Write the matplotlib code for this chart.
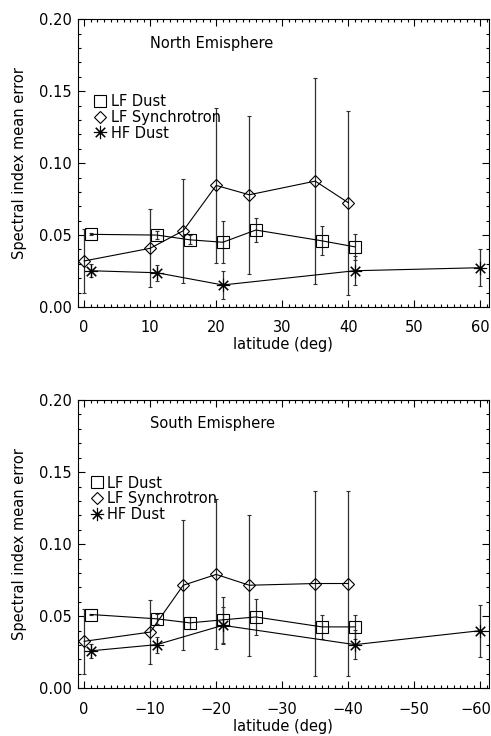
import matplotlib
matplotlib.use("Agg")
import matplotlib.pyplot as plt
from matplotlib.ticker import MultipleLocator, FormatStrFormatter
from matplotlib.lines import Line2D
from matplotlib.transforms import ScaledTranslation

# North hemisphere
n_lf_dust_lat = [1, 11, 16, 21, 26, 36, 41]
n_lf_dust_val = [0.0505, 0.050, 0.0467, 0.045, 0.0535, 0.046, 0.0418]
n_lf_dust_err = [0.0006, 0.003, 0.003, 0.0145, 0.0083, 0.010, 0.009]

n_lf_sync_lat = [0, 10, 15, 20, 25, 35, 40]
n_lf_sync_val = [0.032, 0.0408, 0.053, 0.0845, 0.078, 0.0875, 0.0725]
n_lf_sync_err = [0.0225, 0.027, 0.036, 0.054, 0.055, 0.0715, 0.064]

n_hf_dust_lat = [1, 11, 21, 41, 60]
n_hf_dust_val = [0.0252, 0.0238, 0.0153, 0.0252, 0.0273]
n_hf_dust_err = [0.0047, 0.0055, 0.0098, 0.010, 0.013]

# South hemisphere
s_lf_dust_lat = [-1, -11, -16, -21, -26, -36, -41]
s_lf_dust_val = [0.0512, 0.0482, 0.0454, 0.0475, 0.0495, 0.0426, 0.0426]
s_lf_dust_err = [0.0006, 0.0035, 0.004, 0.016, 0.0125, 0.0085, 0.0085]

s_lf_sync_lat = [0, -10, -15, -20, -25, -35, -40]
s_lf_sync_val = [0.0326, 0.039, 0.0715, 0.079, 0.0715, 0.0727, 0.0727]
s_lf_sync_err = [0.0225, 0.022, 0.045, 0.052, 0.049, 0.064, 0.064]

s_hf_dust_lat = [-1, -11, -21, -41, -60]
s_hf_dust_val = [0.026, 0.0303, 0.0437, 0.0303, 0.040]
s_hf_dust_err = [0.0048, 0.0055, 0.0128, 0.010, 0.018]

labels = ["LF Dust", "LF Synchrotron", "HF Dust"]

plt.rcParams["font.family"] = "DejaVu Sans"
plt.rcParams["font.size"] = 10.5

STAR = (8, 2, 0)
styles = [
    dict(marker="s", markersize=9.3),
    dict(marker="D", markersize=6.0),
    dict(marker=STAR, markersize=9.5),
]


def draw_panel(fig, ax, series, xlim, title, legend_xy):
    for (lat, val, err), st in zip(series, styles):
        ax.errorbar(lat, val, yerr=err, color="k", lw=0.8,
                    ecolor="#303030", elinewidth=0.9, capsize=1.6, capthick=0.9,
                    mfc="none", mec="k", mew=0.8, **st)

    ax.set_xlim(*xlim)
    ax.set_ylim(0, 0.2)
    ax.xaxis.set_major_locator(MultipleLocator(10))
    ax.xaxis.set_minor_locator(MultipleLocator(1))
    ax.yaxis.set_major_locator(MultipleLocator(0.05))
    ax.yaxis.set_minor_locator(MultipleLocator(0.01))
    ax.yaxis.set_major_formatter(FormatStrFormatter("%.2f"))
    ax.tick_params(which="both", direction="in", top=True, right=True, width=0.8)
    ax.tick_params(which="major", length=5)
    ax.tick_params(which="minor", length=2.5)
    ax.tick_params(axis="x", pad=9.5)
    ax.tick_params(axis="y", pad=4)
    for sp in ax.spines.values():
        sp.set_linewidth(0.8)

    ax.set_xlabel("latitude (deg)", labelpad=1.5)
    ax.set_ylabel("Spectral index mean error", labelpad=9)
    ax.text(0.176, 0.917, title, transform=ax.transAxes, ha="left", va="center")

    handles = [Line2D([], [], ls="none", color="k", mfc="none", mew=0.8, **st)
               for st in styles]
    ax.legend(handles, labels, loc="upper left", bbox_to_anchor=legend_xy,
              frameon=False, handlelength=0.7, handletextpad=0.35,
              labelspacing=0.05, borderpad=0, borderaxespad=0)


def nudge_edge_label(fig, ax):
    # the +-60 label sits at the right edge; pull it in a few pixels
    fig.canvas.draw()
    for tick, loc in zip(ax.xaxis.get_major_ticks(), ax.get_xticks()):
        if abs(loc) == 60:
            lab = tick.label1
            lab.set_transform(lab.get_transform()
                              + ScaledTranslation(-3 / 72, 0, fig.dpi_scale_trans))


fig = plt.figure(figsize=(4.91, 7.36), dpi=100)
ax1 = fig.add_axes([0.158, 0.5829, 0.8377, 0.3909])
ax2 = fig.add_axes([0.158, 0.0648, 0.8377, 0.3917])

draw_panel(fig, ax1,
           [(n_lf_dust_lat, n_lf_dust_val, n_lf_dust_err),
            (n_lf_sync_lat, n_lf_sync_val, n_lf_sync_err),
            (n_hf_dust_lat, n_hf_dust_val, n_hf_dust_err)],
           (-1, 61.3), "North Emisphere", (0.043, 0.74))

draw_panel(fig, ax2,
           [(s_lf_dust_lat, s_lf_dust_val, s_lf_dust_err),
            (s_lf_sync_lat, s_lf_sync_val, s_lf_sync_err),
            (s_hf_dust_lat, s_hf_dust_val, s_hf_dust_err)],
           (1, -61.3), "South Emisphere", (0.034, 0.738))

nudge_edge_label(fig, ax2)

fig.savefig("out.png", dpi=100)
